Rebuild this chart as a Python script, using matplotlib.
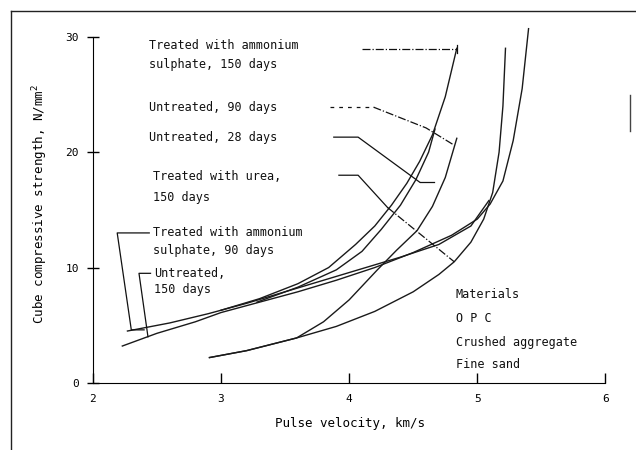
import matplotlib
matplotlib.use("Agg")
import matplotlib.pyplot as plt
from matplotlib.lines import Line2D

# pulse velocity (km/s) and cube strength (N/mm2)
as150_v = [3.0, 3.3, 3.6, 3.84, 4.05, 4.2, 4.33, 4.45, 4.55, 4.65, 4.75, 4.84]
as150_s = [6.3, 7.3, 8.6, 10.0, 12.0, 13.6, 15.4, 17.3, 19.2, 21.5, 24.8, 29.0]

u28_v = [3.28, 3.6, 3.9, 4.1, 4.25, 4.4, 4.52, 4.62, 4.67]
u28_s = [7.0, 8.3, 9.8, 11.4, 13.3, 15.4, 17.6, 20.0, 22.0]

u90_v = [2.91, 3.2, 3.59, 3.8, 4.0, 4.22, 4.37, 4.53, 4.65, 4.75, 4.84]
u90_s = [2.2, 2.8, 3.9, 5.3, 7.2, 9.8, 11.5, 13.2, 15.3, 17.8, 21.2]

urea_v = [2.91, 3.2, 3.59, 3.9, 4.2, 4.5, 4.7, 4.82, 4.95, 5.05, 5.12, 5.17, 5.2, 5.22]
urea_s = [2.2, 2.8, 3.9, 4.9, 6.2, 7.9, 9.4, 10.5, 12.2, 14.2, 16.5, 20.0, 24.0, 29.0]

u150_v = [2.23, 2.5, 2.8, 3.0, 3.3, 3.6, 3.9, 4.2, 4.5, 4.8, 5.0, 5.1, 5.2, 5.28, 5.35, 5.4]
u150_s = [3.2, 4.3, 5.3, 6.1, 7.0, 7.9, 8.9, 10.0, 11.3, 12.8, 14.2, 15.5, 17.5, 21.0, 25.5, 30.7]

as90_v = [2.27, 2.6, 2.9, 3.2, 3.5, 3.8, 4.1, 4.4, 4.7, 4.95, 5.09]
as90_s = [4.5, 5.2, 6.0, 6.9, 7.9, 8.9, 9.9, 10.9, 12.0, 13.6, 15.8]

x_ticks = [2, 3, 4, 5, 6]
y_ticks = [0, 10, 20, 30]

mono = "DejaVu Sans Mono"
plt.rcParams["font.family"] = mono

fig = plt.figure(figsize=(6.36, 4.5), dpi=100)
ax = fig.add_axes([0.146, 0.149, 0.81, 0.795])

for v, s in [(as150_v, as150_s), (u28_v, u28_s), (u90_v, u90_s),
             (urea_v, urea_s), (u150_v, u150_s), (as90_v, as90_s)]:
    ax.plot(v, s, color="#1a1a1a", lw=1.0)

ax.set_xlim(2, 6.02)
ax.set_ylim(0, 31)
ax.set_xticks(x_ticks)
ax.set_yticks(y_ticks)
ax.tick_params(axis="x", direction="in", length=7, labelsize=8, pad=8, width=1)
ax.tick_params(axis="y", direction="inout", length=8, labelsize=8, pad=6, width=1)
for side in ["top", "right"]:
    ax.spines[side].set_visible(False)
ax.spines["left"].set_bounds(0, 30)
ax.spines["bottom"].set_bounds(2, 6)
ax.set_xlabel("Pulse velocity, km/s", fontsize=9, labelpad=9)
ax.set_ylabel("Cube compressive strength, N/mm$^2$", fontsize=9, labelpad=11)

# labels and leader lines
kw = dict(fontsize=8.5, color="#111", va="center", ha="left")
ax.text(2.44, 29.2, "Treated with ammonium", **kw)
ax.text(2.44, 27.6, "sulphate, 150 days", **kw)
ax.plot([4.1, 4.84], [28.9, 28.9], color="#111", lw=0.9, ls="-.")
ax.plot([4.84, 4.84], [28.6, 29.3], color="#111", lw=0.9)

ax.text(2.44, 23.9, "Untreated, 90 days", **kw)
ax.plot([3.85, 4.19], [23.9, 23.9], color="#111", lw=0.9, ls=(0, (3, 4)))
ax.plot([4.19, 4.6, 4.82], [23.9, 22.1, 20.6], color="#111", lw=0.9, ls="-.")

ax.text(2.44, 21.3, "Untreated, 28 days", **kw)
ax.plot([3.88, 4.07, 4.55], [21.3, 21.3, 17.4], color="#111", lw=0.9)
ax.plot([4.55, 4.66], [17.4, 17.4], color="#111", lw=0.9)

ax.text(2.47, 17.9, "Treated with urea,", **kw)
ax.text(2.47, 16.1, "150 days", **kw)
ax.plot([3.92, 4.07, 4.3], [18.0, 18.0, 15.2], color="#111", lw=0.9)
ax.plot([4.3, 4.82], [15.2, 10.5], color="#111", lw=0.9, ls="-.")

ax.text(2.47, 13.0, "Treated with ammonium", **kw)
ax.text(2.47, 11.5, "sulphate, 90 days", **kw)
ax.plot([2.44, 2.19, 2.30, 2.4], [13.0, 13.0, 4.6, 4.6], color="#111", lw=0.9)

ax.text(2.48, 9.5, "Untreated,", **kw)
ax.text(2.48, 8.1, "150 days", **kw)
ax.plot([2.45, 2.36, 2.43], [9.5, 9.5, 4.0], color="#111", lw=0.9)

ax.text(4.83, 7.7, "Materials", **kw)
ax.text(4.83, 5.6, "O P C", **kw)
ax.text(4.83, 3.5, "Crushed aggregate", **kw)
ax.text(4.83, 1.6, "Fine sand", **kw)

# scanned page border
fig.add_artist(Line2D([0.018, 0.018], [0.0, 0.975], color="#222", lw=1.0))
fig.add_artist(Line2D([0.018, 1.0], [0.975, 0.975], color="#222", lw=1.0))
fig.add_artist(Line2D([0.99, 0.99], [0.71, 0.79], color="#444", lw=1.0))

fig.savefig("out.png", dpi=100)
